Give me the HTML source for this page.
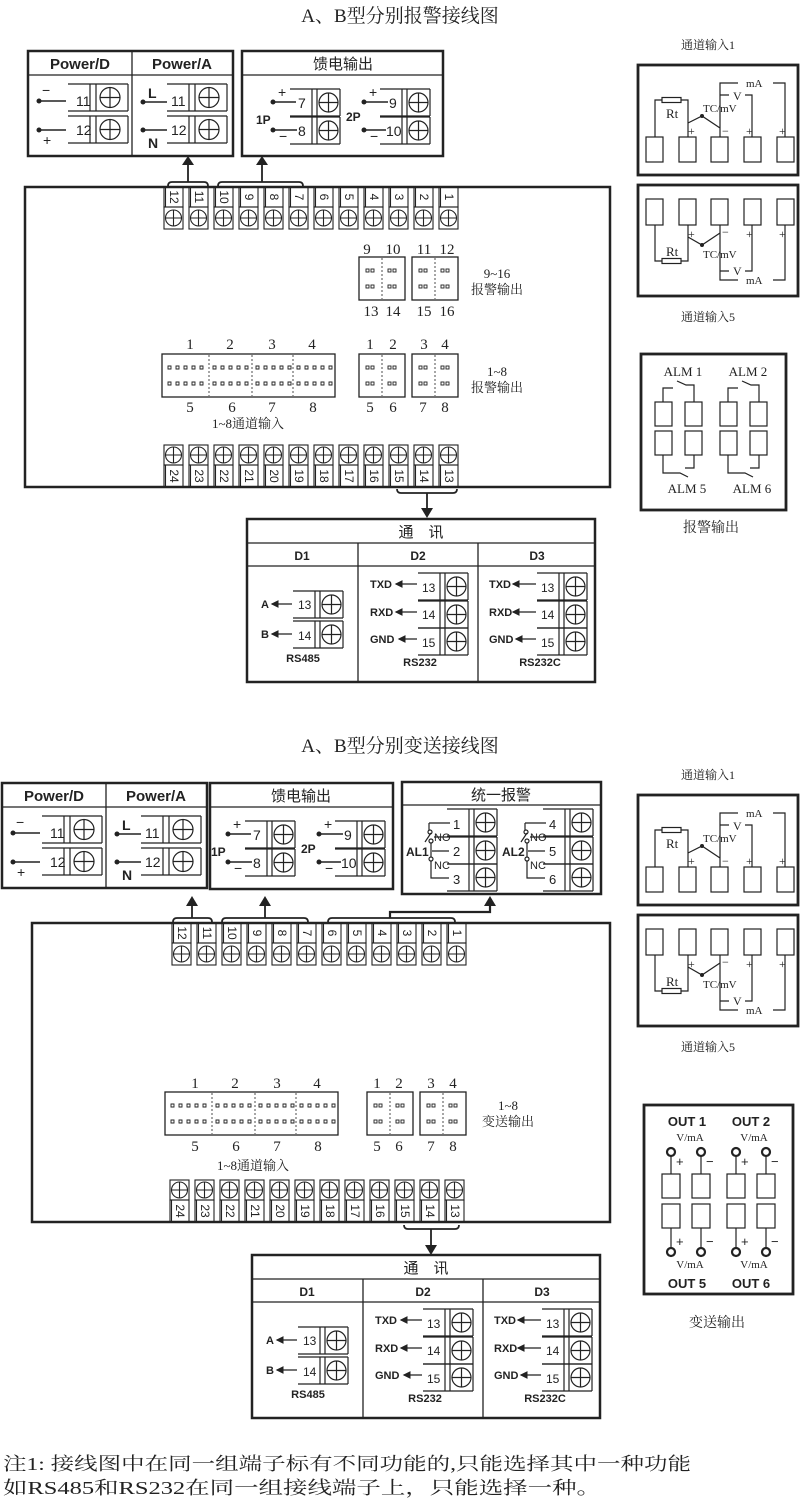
<!DOCTYPE html>
<html><head><meta charset="utf-8"><style>
html,body{margin:0;padding:0;background:#fff;}
svg{display:block;}
.s{font-family:"Liberation Sans","Noto Sans CJK SC",sans-serif;}
.r{font-family:"Liberation Serif","Noto Serif CJK SC","Noto Sans CJK SC",serif;}
</style></head><body>
<svg width="800" height="1501" viewBox="0 0 800 1501" xmlns="http://www.w3.org/2000/svg" stroke-linecap="butt">
<defs>
<symbol id="T" overflow="visible"><g fill="none" stroke="#222" stroke-width="1.2"><path d="M0 0H60M0 27H60M22 0V27M28 0V27M60 0V27"/><circle cx="42" cy="13.5" r="10"/><path d="M42 3.5V23.5M32 13.5H52"/></g></symbol>
<symbol id="C" overflow="visible"><g fill="none" stroke="#222" stroke-width="1.2"><path d="M0 0H50M0 27H50M22 0V27M27 0V27M50 0V27"/><circle cx="38.5" cy="13.5" r="9.5"/><path d="M38.5 4V23M29 13.5H48"/></g></symbol>
<symbol id="VT" overflow="visible"><g fill="none" stroke="#222" stroke-width="1.1"><rect x="0" y="0" width="19" height="20"/><rect x="0" y="20" width="19" height="22"/><path d="M1.5 0V20"/><circle cx="9.5" cy="31" r="8"/><path d="M9.5 23V39M1.5 31H17.5"/></g></symbol>
<symbol id="VB" overflow="visible"><g fill="none" stroke="#222" stroke-width="1.1"><rect x="0" y="0" width="19" height="20"/><rect x="0" y="20" width="19" height="22"/><path d="M1.5 20V42"/><circle cx="9.5" cy="10" r="8"/><path d="M9.5 2V18M1.5 10H17.5"/></g></symbol>
<symbol id="B4" overflow="visible"><rect x="0" y="0" width="46" height="43" fill="none" stroke="#222" stroke-width="1.3"/><path d="M23 1V42" stroke="#222" stroke-width="0.8" stroke-dasharray="2 2"/><g fill="none" stroke="#222" stroke-width="0.9"><rect x="7" y="12" width="3" height="3"/><rect x="12" y="12" width="3" height="3"/><rect x="29" y="12" width="3" height="3"/><rect x="34" y="12" width="3" height="3"/><rect x="7" y="28" width="3" height="3"/><rect x="12" y="28" width="3" height="3"/><rect x="29" y="28" width="3" height="3"/><rect x="34" y="28" width="3" height="3"/></g></symbol>
<symbol id="CH" overflow="visible"><rect x="0" y="0" width="173" height="43" fill="none" stroke="#222" stroke-width="1.3"/><path d="M47 1V42M90 1V42M131 1V42" stroke="#222" stroke-width="0.8" stroke-dasharray="2 2"/>
<g fill="none" stroke="#222" stroke-width="0.9">
<path d="M6 12h3v3h-3zM14 12h3v3h-3zM22 12h3v3h-3zM30 12h3v3h-3zM38 12h3v3h-3zM51 12h3v3h-3zM59 12h3v3h-3zM67 12h3v3h-3zM75 12h3v3h-3zM83 12h3v3h-3zM94 12h3v3h-3zM102 12h3v3h-3zM110 12h3v3h-3zM118 12h3v3h-3zM126 12h3v3h-3zM135 12h3v3h-3zM143 12h3v3h-3zM151 12h3v3h-3zM159 12h3v3h-3zM167 12h3v3h-3z"/>
<path d="M6 28h3v3h-3zM14 28h3v3h-3zM22 28h3v3h-3zM30 28h3v3h-3zM38 28h3v3h-3zM51 28h3v3h-3zM59 28h3v3h-3zM67 28h3v3h-3zM75 28h3v3h-3zM83 28h3v3h-3zM94 28h3v3h-3zM102 28h3v3h-3zM110 28h3v3h-3zM118 28h3v3h-3zM126 28h3v3h-3zM135 28h3v3h-3zM143 28h3v3h-3zM151 28h3v3h-3zM159 28h3v3h-3zM167 28h3v3h-3z"/>
</g></symbol>
<marker id="al" markerWidth="6" markerHeight="6" refX="1" refY="3" orient="auto"><path d="M6 0L0 3L6 6Z" fill="#222"/></marker>
</defs>

<text x="400" y="22" class="r" font-size="19" text-anchor="middle" fill="#222">A、B型分别报警接线图</text>

<g id="pw">
<rect x="28" y="51" width="205" height="105" fill="none" stroke="#222" stroke-width="2.5"/>
<path d="M28 75H233M132 51V156" stroke="#222" stroke-width="1.3"/>
<text x="80" y="69" class="s" font-size="15" font-weight="bold" text-anchor="middle" fill="#222">Power/D</text>
<text x="182" y="69" class="s" font-size="15" font-weight="bold" text-anchor="middle" fill="#222">Power/A</text>
<use href="#T" x="68" y="84"/><use href="#T" x="68" y="116"/>
<use href="#T" x="167" y="84"/><use href="#T" x="167" y="116"/>
<g stroke="#222" stroke-width="1.4"><path d="M39 101H66M39 130H66M143 102H167M143 130H167"/></g>
<g fill="#222"><circle cx="39" cy="101" r="2.5"/><circle cx="39" cy="130" r="2.5"/><circle cx="143" cy="102" r="2.5"/><circle cx="143" cy="130" r="2.5"/></g>
<g class="s" font-size="14" fill="#222">
<text x="42" y="95">−</text><text x="43" y="145">+</text>
<text x="76" y="106">11</text><text x="76" y="135">12</text>
<text x="148" y="98" font-weight="bold">L</text><text x="148" y="148" font-weight="bold">N</text>
<text x="171" y="106">11</text><text x="171" y="135">12</text>
</g>
</g>

<rect x="242" y="51" width="201" height="105" fill="none" stroke="#222" stroke-width="2.5"/>
<path d="M242 75H443" stroke="#222" stroke-width="1.3"/>
<text x="343" y="69" class="s" font-size="15" text-anchor="middle" fill="#222">馈电输出</text>
<g id="fd">
<use href="#C" x="290" y="89"/><use href="#C" x="290" y="117"/>
<use href="#C" x="380" y="89"/><use href="#C" x="380" y="117"/>
<g stroke="#222" stroke-width="1.4"><path d="M273 102H296M273 130H297M364 102H388M364 130H386"/></g>
<g fill="#222"><circle cx="273" cy="102" r="2.5"/><circle cx="273" cy="130" r="2.5"/><circle cx="364" cy="102" r="2.5"/><circle cx="364" cy="130" r="2.5"/></g>
<g class="s" font-size="14" fill="#222">
<text x="278" y="97">+</text><text x="279" y="141">−</text><text x="298" y="108">7</text><text x="298" y="136">8</text>
<text x="256" y="124" font-size="12" font-weight="bold">1P</text>
<text x="369" y="97">+</text><text x="370" y="141">−</text><text x="389" y="108">9</text><text x="386" y="136">10</text>
<text x="346" y="121" font-size="12" font-weight="bold">2P</text>
</g>
</g>

<g stroke="#222" stroke-width="1.8" fill="none">
<path d="M168 186q0-4 4-4H204q4 0 4 4M188 182V163"/>
<path d="M218 186q0-4 4-4H299q4 0 4 4M262 182V163"/>
<path d="M397 489q0 4 4 4H453q4 0 4-4M427 493V510"/>
</g>
<g fill="#222"><path d="M182 165L188 156L194 165Z"/><path d="M256 165L262 156L268 165Z"/><path d="M421 508L427 518L433 508Z"/></g>

<rect x="25" y="187" width="585" height="300" fill="none" stroke="#222" stroke-width="2.5"/>
<g>
<use href="#VT" x="164" y="187"/><use href="#VT" x="189" y="187"/><use href="#VT" x="214" y="187"/><use href="#VT" x="239" y="187"/><use href="#VT" x="264" y="187"/><use href="#VT" x="289" y="187"/><use href="#VT" x="314" y="187"/><use href="#VT" x="339" y="187"/><use href="#VT" x="364" y="187"/><use href="#VT" x="389" y="187"/><use href="#VT" x="414" y="187"/><use href="#VT" x="439" y="187"/>
<use href="#VB" x="164" y="445"/><use href="#VB" x="189" y="445"/><use href="#VB" x="214" y="445"/><use href="#VB" x="239" y="445"/><use href="#VB" x="264" y="445"/><use href="#VB" x="289" y="445"/><use href="#VB" x="314" y="445"/><use href="#VB" x="339" y="445"/><use href="#VB" x="364" y="445"/><use href="#VB" x="389" y="445"/><use href="#VB" x="414" y="445"/><use href="#VB" x="439" y="445"/>
</g>
<g class="s" font-size="12" fill="#222" text-anchor="middle">
<text transform="translate(174,197) rotate(90)" dy="4">12</text><text transform="translate(199,197) rotate(90)" dy="4">11</text><text transform="translate(224,197) rotate(90)" dy="4">10</text><text transform="translate(249,197) rotate(90)" dy="4">9</text><text transform="translate(274,197) rotate(90)" dy="4">8</text><text transform="translate(299,197) rotate(90)" dy="4">7</text><text transform="translate(324,197) rotate(90)" dy="4">6</text><text transform="translate(349,197) rotate(90)" dy="4">5</text><text transform="translate(374,197) rotate(90)" dy="4">4</text><text transform="translate(399,197) rotate(90)" dy="4">3</text><text transform="translate(424,197) rotate(90)" dy="4">2</text><text transform="translate(449,197) rotate(90)" dy="4">1</text>
<text transform="translate(174,476) rotate(90)" dy="4">24</text><text transform="translate(199,476) rotate(90)" dy="4">23</text><text transform="translate(224,476) rotate(90)" dy="4">22</text><text transform="translate(249,476) rotate(90)" dy="4">21</text><text transform="translate(274,476) rotate(90)" dy="4">20</text><text transform="translate(299,476) rotate(90)" dy="4">19</text><text transform="translate(324,476) rotate(90)" dy="4">18</text><text transform="translate(349,476) rotate(90)" dy="4">17</text><text transform="translate(374,476) rotate(90)" dy="4">16</text><text transform="translate(399,476) rotate(90)" dy="4">15</text><text transform="translate(424,476) rotate(90)" dy="4">14</text><text transform="translate(449,476) rotate(90)" dy="4">13</text>
</g>
<use href="#B4" x="359" y="257"/><use href="#B4" x="412" y="257"/>
<use href="#B4" x="359" y="354"/><use href="#B4" x="412" y="354"/>
<use href="#CH" x="162" y="354"/>
<g class="r" font-size="15" fill="#222" text-anchor="middle">
<text x="367" y="254">9</text><text x="393" y="254">10</text><text x="424" y="254">11</text><text x="447" y="254">12</text>
<text x="371" y="316">13</text><text x="393" y="316">14</text><text x="424" y="316">15</text><text x="447" y="316">16</text>
<text x="370" y="349">1</text><text x="393" y="349">2</text><text x="424" y="349">3</text><text x="445" y="349">4</text>
<text x="370" y="412">5</text><text x="393" y="412">6</text><text x="423" y="412">7</text><text x="445" y="412">8</text>
<text x="190" y="349">1</text><text x="230" y="349">2</text><text x="272" y="349">3</text><text x="312" y="349">4</text>
<text x="190" y="412">5</text><text x="232" y="412">6</text><text x="272" y="412">7</text><text x="313" y="412">8</text>
<text x="248" y="428" font-size="13">1~8通道输入</text>
<text x="497" y="278" font-size="13">9~16</text><text x="497" y="294" font-size="13">报警输出</text>
<text x="497" y="376" font-size="13">1~8</text><text x="497" y="392" font-size="13">报警输出</text>
</g>

<g id="cm">
<rect x="247" y="519" width="348" height="163" fill="none" stroke="#222" stroke-width="2.5"/>
<path d="M247 543H595M247 566H595M358 543V682M478 543V682" stroke="#222" stroke-width="1.3"/>
<text x="421" y="537" class="s" font-size="15" text-anchor="middle" fill="#222">通　讯</text>
<g class="s" font-size="12" font-weight="bold" fill="#222" text-anchor="middle"><text x="302" y="560">D1</text><text x="418" y="560">D2</text><text x="537" y="560">D3</text></g>
<use href="#C" x="293" y="591"/><use href="#C" x="293" y="621"/>
<use href="#C" x="418" y="573"/><use href="#C" x="418" y="601"/><use href="#C" x="418" y="628"/>
<use href="#C" x="537" y="573"/><use href="#C" x="537" y="601"/><use href="#C" x="537" y="628"/>
<g stroke="#222" stroke-width="1.3" marker-start="url(#al)"><path d="M272 604H292"/><path d="M272 634H292"/><path d="M396 584H417"/><path d="M396 612H417"/><path d="M399 639H417"/><path d="M513 584H536"/><path d="M513 612H536"/><path d="M516 639H536"/></g>
<g class="s" font-size="12" fill="#222">
<text x="261" y="608" font-size="11" font-weight="bold">A</text><text x="261" y="638" font-size="11" font-weight="bold">B</text>
<text x="298" y="609">13</text><text x="298" y="640">14</text>
<text x="370" y="588" font-size="11" font-weight="bold">TXD</text><text x="370" y="616" font-size="11" font-weight="bold">RXD</text><text x="370" y="643" font-size="11" font-weight="bold">GND</text>
<text x="422" y="592">13</text><text x="422" y="619">14</text><text x="422" y="647">15</text>
<text x="489" y="588" font-size="11" font-weight="bold">TXD</text><text x="489" y="616" font-size="11" font-weight="bold">RXD</text><text x="489" y="643" font-size="11" font-weight="bold">GND</text>
<text x="541" y="592">13</text><text x="541" y="619">14</text><text x="541" y="647">15</text>
<text x="303" y="662" font-size="11" font-weight="bold" text-anchor="middle">RS485</text>
<text x="420" y="666" font-size="11" font-weight="bold" text-anchor="middle">RS232</text>
<text x="540" y="666" font-size="11" font-weight="bold" text-anchor="middle">RS232C</text>
</g>
</g>

<g id="rp">
<text x="708" y="49" class="r" font-size="12" text-anchor="middle" fill="#222">通道输入1</text>
<rect x="638" y="65" width="160" height="110" fill="none" stroke="#222" stroke-width="2.8"/>
<g fill="none" stroke="#222" stroke-width="1.2">
<rect x="646" y="137" width="17" height="25"/><rect x="679" y="137" width="17" height="25"/><rect x="711" y="137" width="17" height="25"/><rect x="744" y="137" width="17" height="25"/><rect x="777" y="137" width="17" height="25"/>
<path d="M655 137V100H662M681 100H688V137M688 123L702 116L720 128M720 137V83H738M773 83H785V137M720 95H729M745 95H752V137"/>
<rect x="662" y="97.5" width="19" height="5"/>
</g>
<circle cx="702" cy="116" r="2" fill="#222"/>
<g class="r" fill="#222" font-size="12"><text x="703" y="112" font-size="11">TC/mV</text><text x="666" y="118" font-size="13">Rt</text><text x="733" y="100">V</text><text x="746" y="87" font-size="11">mA</text>
<text x="688" y="135">+</text><text x="722" y="135">−</text><text x="746" y="135">+</text><text x="779" y="135">+</text></g>

<rect x="638" y="185" width="160" height="111" fill="none" stroke="#222" stroke-width="2.8"/>
<g fill="none" stroke="#222" stroke-width="1.2">
<rect x="646" y="199" width="17" height="26"/><rect x="679" y="199" width="17" height="26"/><rect x="711" y="199" width="17" height="26"/><rect x="744" y="199" width="17" height="26"/><rect x="777" y="199" width="17" height="26"/>
<path d="M655 225V261H662M681 261H688V225M688 237L702 245L720 233M720 225V280H738M773 280H785V225M720 271H729M745 271H752V225"/>
<rect x="662" y="258.5" width="19" height="5"/>
</g>
<circle cx="702" cy="245" r="2" fill="#222"/>
<g class="r" fill="#222" font-size="12"><text x="703" y="258" font-size="11">TC/mV</text><text x="666" y="256" font-size="13">Rt</text><text x="733" y="275">V</text><text x="746" y="284" font-size="11">mA</text>
<text x="688" y="238">+</text><text x="722" y="236">−</text><text x="746" y="238">+</text><text x="779" y="238">+</text></g>
<text x="708" y="321" class="r" font-size="12" text-anchor="middle" fill="#222">通道输入5</text>
</g>

<rect x="641" y="354" width="145" height="156" fill="none" stroke="#222" stroke-width="2.8"/>
<g fill="none" stroke="#222" stroke-width="1.2">
<rect x="655" y="402" width="17" height="24"/><rect x="685" y="402" width="17" height="24"/><rect x="720" y="402" width="17" height="24"/><rect x="750" y="402" width="17" height="24"/>
<rect x="655" y="431" width="17" height="24"/><rect x="685" y="431" width="17" height="24"/><rect x="720" y="431" width="17" height="24"/><rect x="750" y="431" width="17" height="24"/>
<path d="M663 402V388H673M677 381L686 385H694V402M728 402V388H738M742 381L751 385H759V402"/>
<path d="M663 455V473H680L688 477M694 455V468H685M728 455V473H745L753 477M759 455V468H750"/>
</g>
<g class="r" font-size="13" fill="#222" text-anchor="middle"><text x="683" y="376">ALM 1</text><text x="748" y="376">ALM 2</text><text x="687" y="493">ALM 5</text><text x="752" y="493">ALM 6</text>
<text x="711" y="532" font-size="14">报警输出</text></g>

<text x="400" y="752" class="r" font-size="19" text-anchor="middle" fill="#222">A、B型分别变送接线图</text>
<use href="#pw" transform="translate(-26,732)"/>
<rect x="210" y="783" width="183" height="106" fill="none" stroke="#222" stroke-width="2.5"/>
<path d="M210 807H393" stroke="#222" stroke-width="1.3"/>
<text x="301" y="801" class="s" font-size="15" text-anchor="middle" fill="#222">馈电输出</text>
<use href="#fd" transform="translate(-45,732)"/>

<rect x="402" y="782" width="199" height="112" fill="none" stroke="#222" stroke-width="2.5"/>
<path d="M402 805H601" stroke="#222" stroke-width="1.3"/>
<text x="501" y="800" class="s" font-size="15" text-anchor="middle" fill="#222">统一报警</text>
<use href="#C" x="447" y="809"/><use href="#C" x="447" y="837"/><use href="#C" x="447" y="864"/>
<use href="#C" x="543" y="809"/><use href="#C" x="543" y="837"/><use href="#C" x="543" y="864"/>
<g fill="none" stroke="#222" stroke-width="1.2">
<path d="M429 823H450M429 823V830M425 842L431 833M434 837H447M431 843V857M432 851H449M431 861V878H449"/>
<path d="M525 823H546M525 823V830M521 842L527 833M530 837H543M527 843V857M528 851H545M527 861V878H545"/>
<circle cx="430" cy="832" r="2"/><circle cx="431" cy="841" r="2"/><circle cx="431" cy="859" r="2"/>
<circle cx="526" cy="832" r="2"/><circle cx="527" cy="841" r="2"/><circle cx="527" cy="859" r="2"/>
</g>
<g class="s" font-size="12" fill="#222">
<text x="453" y="829" font-size="13">1</text><text x="453" y="856" font-size="13">2</text><text x="453" y="884" font-size="13">3</text>
<text x="549" y="829" font-size="13">4</text><text x="549" y="856" font-size="13">5</text><text x="549" y="884" font-size="13">6</text>
<text x="434" y="841" font-size="11">NO</text><text x="434" y="869" font-size="11">NC</text>
<text x="530" y="841" font-size="11">NO</text><text x="530" y="869" font-size="11">NC</text>
<text x="406" y="856" font-size="12" font-weight="bold">AL1</text><text x="502" y="856" font-size="12" font-weight="bold">AL2</text>
</g>

<g stroke="#222" stroke-width="1.8" fill="none">
<path d="M173 922q0-4 4-4H208q4 0 4 4M192 918V905"/>
<path d="M222 922q0-4 4-4H304q4 0 4 4M265 918V905"/>
<path d="M328 922q0-4 4-4H451q4 0 4 4"/>
<path d="M390 918V912H490V905" stroke-width="2.2"/>
<path d="M404 1225q0 4 4 4H455q4 0 4-4M431 1229V1247"/>
</g>
<g fill="#222"><path d="M186 906L192 896L198 906Z"/><path d="M259 906L265 896L271 906Z"/><path d="M484 906L490 896L496 906Z"/><path d="M425 1245L431 1255L437 1245Z"/></g>

<rect x="32" y="923" width="578" height="299" fill="none" stroke="#222" stroke-width="2.5"/>
<g>
<use href="#VT" x="172" y="923"/><use href="#VT" x="197" y="923"/><use href="#VT" x="222" y="923"/><use href="#VT" x="247" y="923"/><use href="#VT" x="272" y="923"/><use href="#VT" x="297" y="923"/><use href="#VT" x="322" y="923"/><use href="#VT" x="347" y="923"/><use href="#VT" x="372" y="923"/><use href="#VT" x="397" y="923"/><use href="#VT" x="422" y="923"/><use href="#VT" x="447" y="923"/>
<use href="#VB" x="170" y="1180"/><use href="#VB" x="195" y="1180"/><use href="#VB" x="220" y="1180"/><use href="#VB" x="245" y="1180"/><use href="#VB" x="270" y="1180"/><use href="#VB" x="295" y="1180"/><use href="#VB" x="320" y="1180"/><use href="#VB" x="345" y="1180"/><use href="#VB" x="370" y="1180"/><use href="#VB" x="395" y="1180"/><use href="#VB" x="420" y="1180"/><use href="#VB" x="445" y="1180"/>
</g>
<g class="s" font-size="12" fill="#222" text-anchor="middle">
<text transform="translate(182,933) rotate(90)" dy="4">12</text><text transform="translate(207,933) rotate(90)" dy="4">11</text><text transform="translate(232,933) rotate(90)" dy="4">10</text><text transform="translate(257,933) rotate(90)" dy="4">9</text><text transform="translate(282,933) rotate(90)" dy="4">8</text><text transform="translate(307,933) rotate(90)" dy="4">7</text><text transform="translate(332,933) rotate(90)" dy="4">6</text><text transform="translate(357,933) rotate(90)" dy="4">5</text><text transform="translate(382,933) rotate(90)" dy="4">4</text><text transform="translate(407,933) rotate(90)" dy="4">3</text><text transform="translate(432,933) rotate(90)" dy="4">2</text><text transform="translate(457,933) rotate(90)" dy="4">1</text>
<text transform="translate(180,1211) rotate(90)" dy="4">24</text><text transform="translate(205,1211) rotate(90)" dy="4">23</text><text transform="translate(230,1211) rotate(90)" dy="4">22</text><text transform="translate(255,1211) rotate(90)" dy="4">21</text><text transform="translate(280,1211) rotate(90)" dy="4">20</text><text transform="translate(305,1211) rotate(90)" dy="4">19</text><text transform="translate(330,1211) rotate(90)" dy="4">18</text><text transform="translate(355,1211) rotate(90)" dy="4">17</text><text transform="translate(380,1211) rotate(90)" dy="4">16</text><text transform="translate(405,1211) rotate(90)" dy="4">15</text><text transform="translate(430,1211) rotate(90)" dy="4">14</text><text transform="translate(455,1211) rotate(90)" dy="4">13</text>
</g>
<use href="#CH" x="165" y="1092"/>
<use href="#B4" x="367" y="1092"/><use href="#B4" x="420" y="1092"/>
<g class="r" font-size="15" fill="#222" text-anchor="middle">
<text x="195" y="1088">1</text><text x="235" y="1088">2</text><text x="277" y="1088">3</text><text x="317" y="1088">4</text>
<text x="195" y="1151">5</text><text x="236" y="1151">6</text><text x="277" y="1151">7</text><text x="318" y="1151">8</text>
<text x="377" y="1088">1</text><text x="399" y="1088">2</text><text x="431" y="1088">3</text><text x="453" y="1088">4</text>
<text x="377" y="1151">5</text><text x="399" y="1151">6</text><text x="431" y="1151">7</text><text x="453" y="1151">8</text>
<text x="253" y="1170" font-size="13">1~8通道输入</text>
<text x="508" y="1110" font-size="13">1~8</text><text x="508" y="1126" font-size="13">变送输出</text>
</g>

<use href="#cm" transform="translate(5,736)"/>
<use href="#rp" transform="translate(0,730)"/>

<rect x="644" y="1105" width="149" height="189" fill="none" stroke="#222" stroke-width="2.8"/>
<g fill="none" stroke="#222" stroke-width="1.2">
<rect x="662" y="1174" width="18" height="24"/><rect x="692" y="1174" width="18" height="24"/><rect x="727" y="1174" width="18" height="24"/><rect x="757" y="1174" width="18" height="24"/>
<rect x="662" y="1204" width="18" height="24"/><rect x="692" y="1204" width="18" height="24"/><rect x="727" y="1204" width="18" height="24"/><rect x="757" y="1204" width="18" height="24"/>
<path d="M671 1156V1174M701 1156V1174M736 1156V1174M766 1156V1174M671 1228V1248M701 1228V1248M736 1228V1248M766 1228V1248"/>
</g>
<g fill="none" stroke="#222" stroke-width="2.2"><circle cx="671" cy="1152" r="4"/><circle cx="701" cy="1152" r="4"/><circle cx="736" cy="1152" r="4"/><circle cx="766" cy="1152" r="4"/><circle cx="671" cy="1252" r="4"/><circle cx="701" cy="1252" r="4"/><circle cx="736" cy="1252" r="4"/><circle cx="766" cy="1252" r="4"/></g>
<g class="s" font-size="13" fill="#222">
<text x="676" y="1166">+</text><text x="706" y="1166">−</text><text x="741" y="1166">+</text><text x="771" y="1166">−</text>
<text x="676" y="1246">+</text><text x="706" y="1246">−</text><text x="741" y="1246">+</text><text x="771" y="1246">−</text>
<text x="687" y="1126" font-weight="bold" text-anchor="middle">OUT 1</text><text x="751" y="1126" font-weight="bold" text-anchor="middle">OUT 2</text>
<text x="687" y="1288" font-weight="bold" text-anchor="middle">OUT 5</text><text x="751" y="1288" font-weight="bold" text-anchor="middle">OUT 6</text>
</g>
<g class="r" font-size="11" fill="#222" text-anchor="middle"><text x="690" y="1141">V/mA</text><text x="754" y="1141">V/mA</text><text x="690" y="1268">V/mA</text><text x="754" y="1268">V/mA</text>
<text x="717" y="1327" font-size="14">变送输出</text></g>

<text x="3" y="1470" class="r" font-size="18" fill="#222" textLength="688" lengthAdjust="spacingAndGlyphs">注1: 接线图中在同一组端子标有不同功能的,只能选择其中一种功能</text>
<text x="3" y="1494" class="r" font-size="18" fill="#222" textLength="598" lengthAdjust="spacingAndGlyphs">如RS485和RS232在同一组接线端子上，只能选择一种。</text>
</svg>
</body></html>
